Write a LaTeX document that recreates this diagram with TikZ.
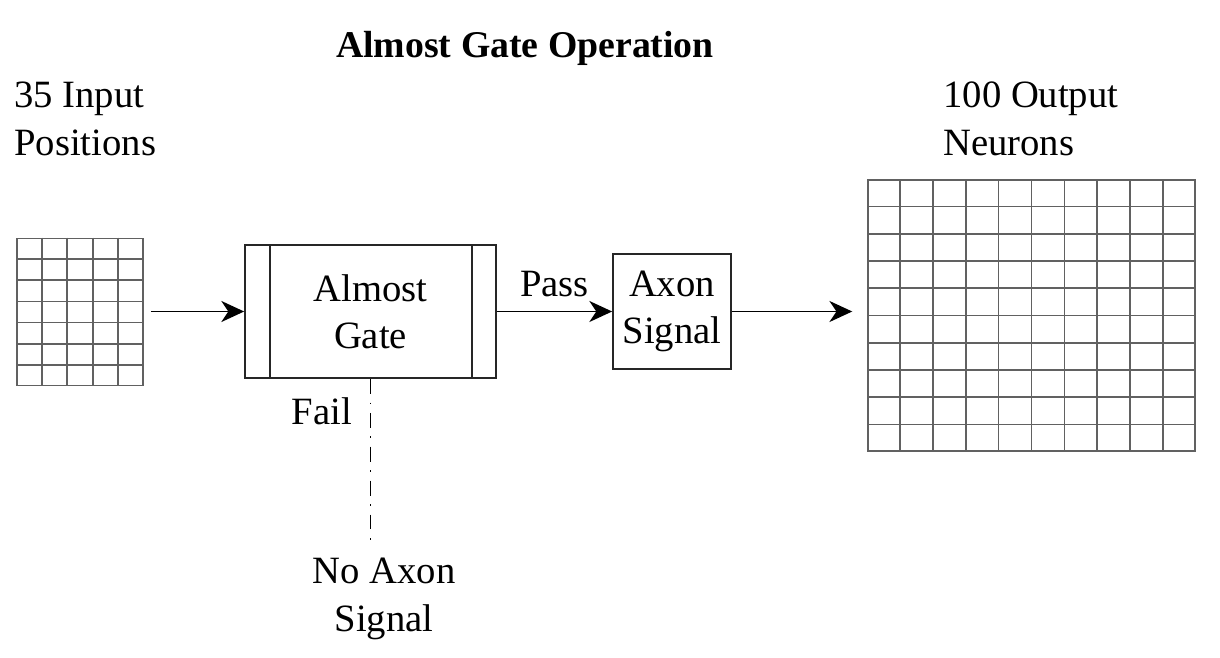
\documentclass[tikz,border=0pt]{standalone}
\usepackage{fontspec}
\setmainfont{Liberation Serif}
\usetikzlibrary{arrows.meta,calc,positioning}

\tikzset{
  box/.style={draw=black!85, line width=1pt, inner sep=0pt},
  gridbox/.style={draw=black!62, line width=0.9pt, inner sep=0pt},
  gridline/.style={draw=black!62, line width=0.9pt},
  flow/.style={-{Stealth[length=13pt,width=12pt,inset=4pt]}, line width=0.8pt},
  failline/.style={line width=0.8pt, dash pattern=on 8.5pt off 5pt on 0.8pt off 5pt},
  lbl/.style={align=center, inner sep=0pt, font=\fontsize{22}{27}\selectfont},
}

\begin{document}
\begin{tikzpicture}[x=0.02cm, y=-0.02cm]
  \useasboundingbox (0,0) rectangle (1220,658);
  % title
  \node[lbl, font=\bfseries\fontsize{21.5}{26}\selectfont] (title) at (525,48) {Almost Gate Operation};
  % input grid, 5 x 7
  \node[gridbox, minimum width=2.52cm, minimum height=2.94cm] (inputs) at (80,312) {};
  \foreach \i in {1,...,4}
    \draw[gridline] ($(inputs.north west)!\i/5!(inputs.north east)$) -- ($(inputs.south west)!\i/5!(inputs.south east)$);
  \foreach \j in {1,...,6}
    \draw[gridline] ($(inputs.north west)!\j/7!(inputs.south west)$) -- ($(inputs.north east)!\j/7!(inputs.south east)$);
  \node[lbl, align=left, anchor=west] (inlabel) at (14,119) {35 Input\\Positions};
  % gate and axon boxes
  \node[box, lbl, minimum width=5.02cm, minimum height=2.66cm] (gate) at (370.5,311.5) {Almost\\Gate};
  \draw[box] ($(gate.north west)+(26,0)$) -- ($(gate.south west)+(26,0)$);
  \draw[box] ($(gate.north east)+(-25,0)$) -- ($(gate.south east)+(-25,0)$);
  \node[box, lbl, minimum width=2.36cm, minimum height=2.3cm] (axon) at (672,311.5) {Axon\\Signal};
  % output grid, 10 x 10
  \node[gridbox, minimum width=6.54cm, minimum height=5.42cm] (outputs) at (1031.5,315.5) {};
  \foreach \i in {1,...,9} {
    \draw[gridline] ($(outputs.north west)!\i/10!(outputs.north east)$) -- ($(outputs.south west)!\i/10!(outputs.south east)$);
    \draw[gridline] ($(outputs.north west)!\i/10!(outputs.south west)$) -- ($(outputs.north east)!\i/10!(outputs.south east)$);
  }
  \node[lbl, align=left, anchor=west] (outlabel) at (943,119) {100 Output\\Neurons};
  % arrows
  \draw[flow, shorten <=0.14cm] (inputs.east |- gate.west) -- (gate.west);
  \draw[flow] (gate.east) -- node[lbl, above=0.28cm] (pass) {Pass} (axon.west);
  \draw[flow, shorten >=0.3cm] (axon.east) -- (axon.east -| outputs.west);
  % fail branch
  \coordinate (failend) at ($(gate.south)+(0,165)$);
  \draw[failline] (gate.south) -- (failend);
  \node[lbl] (fail) at (322,411) {Fail};
  \node[lbl] (noaxon) at (384,599) {No Axon\\Signal};
\end{tikzpicture}
\end{document}
